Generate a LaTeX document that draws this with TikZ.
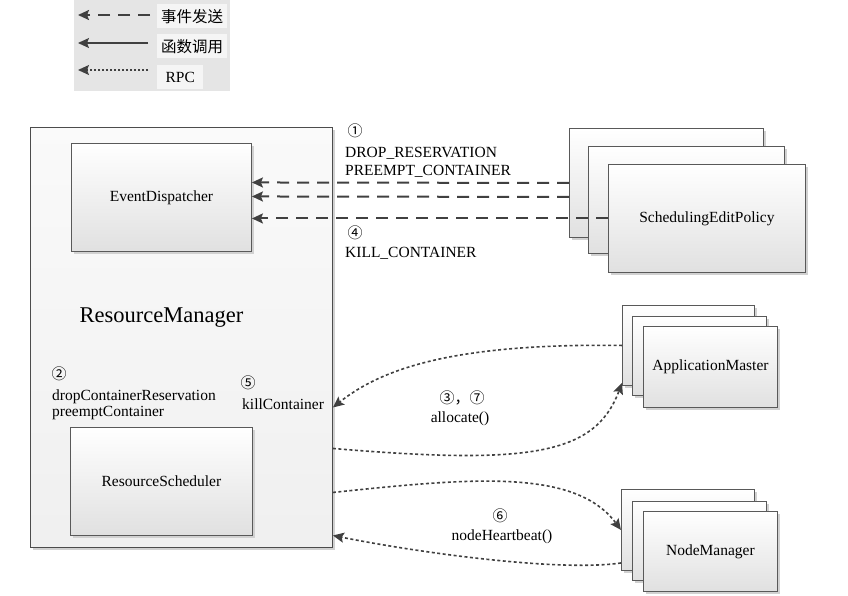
\documentclass[tikz,border=0pt]{standalone}
\usepackage{fontspec}
\setmainfont{Liberation Serif}
\newfontfamily\cjk{Noto Sans CJK SC}
\usetikzlibrary{arrows.meta,shadows}
\begin{document}
\begin{tikzpicture}[x=1pt,y=-1pt,
  font=\fontsize{15.5}{18}\selectfont,
  shd/.style={drop shadow={shadow xshift=3pt,shadow yshift=-3pt,fill=black!18,opacity=1}},
  box/.style={draw=black!65, line width=0.9pt, top color=white, bottom color=black!12, shd, inner sep=0pt, anchor=north west},
  tip/.style={-{Stealth[length=11pt,width=10pt,inset=2pt]}},
  evt/.style={draw=black!75, line width=2pt, dash pattern=on 12pt off 8pt, tip},
  call/.style={draw=black!75, line width=1.2pt, tip},
  rpc/.style={draw=black!75, line width=1.6pt, dash pattern=on 3pt off 2.5pt, tip},
  lbl/.style={anchor=base west, inner sep=0pt},
  num/.style={font=\cjk\fontsize{15}{17}\selectfont, inner sep=0pt},
  legtxt/.style={fill=black!4, minimum height=24pt, inner sep=0pt, anchor=north west}
]
\useasboundingbox (0,0) rectangle (848,595);

% legend
\node[fill=black!10, minimum width=156pt, minimum height=91pt, inner sep=0pt, anchor=north west] (leg) at (74,0) {};
\node[legtxt, minimum width=70pt] (lt1) at (157,4) {\cjk 事件发送};
\node[legtxt, minimum width=70pt] (lt2) at (157,34) {\cjk 函数调用};
\node[legtxt, minimum width=46pt] (lt3) at (157,65) {RPC};
\coordinate (l1a) at (150,15); \coordinate (l1b) at (78,15);
\coordinate (l2a) at (148,43); \coordinate (l2b) at (78,43);
\coordinate (l3a) at (148,70); \coordinate (l3b) at (78,70);
\draw[evt] (l1a) -- (l1b);
\draw[call] (l2a) -- (l2b);
\draw[draw=black!75, line width=1.3pt, dash pattern=on 2pt off 2pt, tip] (l3a) -- (l3b);

% resource manager
\node[draw=black!70, line width=0.9pt, top color=black!2, bottom color=black!6, shd, minimum width=302pt, minimum height=420pt, inner sep=0pt, anchor=north west] (rm) at (30,127) {};
\node[font=\fontsize{22.5}{26}\selectfont, anchor=base] (rmt) at (161.5,322) {ResourceManager};
\node[box, minimum width=180pt, minimum height=108pt] (ed) at (71,143) {EventDispatcher};
\node[box, minimum width=182pt, minimum height=108pt] (rs) at (70,427) {ResourceScheduler};

% scheduling edit policy
\node[box, minimum width=194pt, minimum height=109pt] (sep1) at (569,128) {};
\node[box, minimum width=196pt, minimum height=107pt] (sep2) at (588,146) {};
\node[box, minimum width=197pt, minimum height=108pt] (sep3) at (608,164) {SchedulingEditPolicy};

% application master
\node[box, minimum width=132pt, minimum height=80pt] (am1) at (622,305) {};
\node[box, minimum width=134pt, minimum height=79pt] (am2) at (632,316) {};
\node[box, minimum width=134pt, minimum height=81pt] (am3) at (643,326) {ApplicationMaster};

% node manager
\node[box, minimum width=133pt, minimum height=81pt] (nm1) at (621,489) {};
\node[box, minimum width=134pt, minimum height=79pt] (nm2) at (632,501) {};
\node[box, minimum width=134pt, minimum height=80pt] (nm3) at (643,511) {NodeManager};

% events
\draw[evt] (sep1.west) -- ([yshift=15pt]ed.east);
\draw[evt] ([yshift=-14pt]sep1.west) -- ([yshift=1pt]ed.east);
\draw[evt] (sep3.west) -- ([yshift=-21pt]ed.east);

% rpc
\draw[rpc] (am1.west) .. controls (450,343) and (380,370) .. ([yshift=-70pt]rm.east);
\draw[rpc] ([yshift=-111pt]rm.east) .. controls (530,465) and (595,455) .. ([yshift=3pt]am1.south west);
\draw[rpc] ([yshift=-155pt]rm.east) .. controls (470,478) and (575,468) .. (nm1.west);
\draw[rpc] ([yshift=-33pt]nm1.west) .. controls (560,572) and (420,553) .. ([yshift=-198pt]rm.east);

% labels
\node[num] (n1) at (355,131) {①};
\node[lbl] (t1a) at (345,157) {DROP\_RESERVATION};
\node[lbl] (t1b) at (345,175) {PREEMPT\_CONTAINER};
\node[num] (n4) at (355,233) {④};
\node[lbl] (t4) at (345,257) {KILL\_CONTAINER};
\node[num] (n2) at (59,374) {②};
\node[lbl] (t2a) at (52,400) {dropContainerReservation};
\node[lbl] (t2b) at (52,416) {preemptContainer};
\node[num] (n5) at (248,383) {⑤};
\node[lbl] (t5) at (242,409) {killContainer};
\node[num] (n37) at (462,398) {③，⑦};
\node[anchor=base, inner sep=0pt] (t37) at (460,422) {allocate()};
\node[num] (n6) at (500,516) {⑥};
\node[anchor=base, inner sep=0pt] (t6) at (502,540) {nodeHeartbeat()};
\end{tikzpicture}
\end{document}
